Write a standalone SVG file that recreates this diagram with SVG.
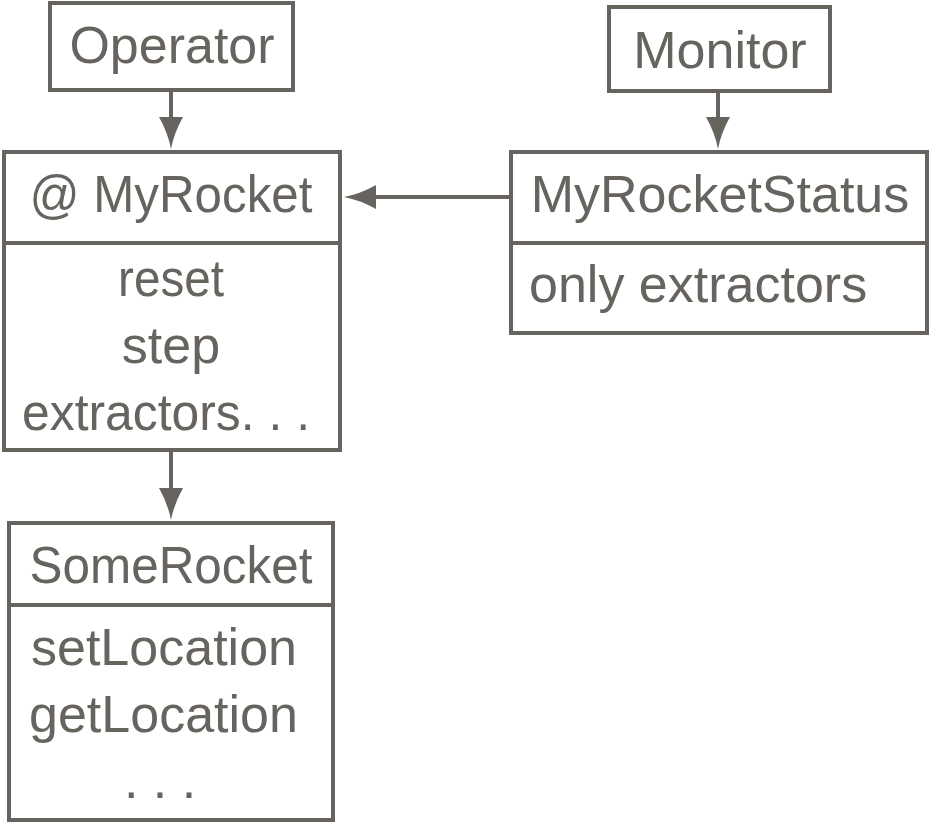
<svg xmlns="http://www.w3.org/2000/svg" width="931" height="823" viewBox="0 0 931 823">
<style>
.box{fill:#fff;stroke:#67645f;stroke-width:4}
.div{stroke:#67645f;stroke-width:4}
.t{font-family:"Liberation Sans",Arial,sans-serif;font-size:52px;fill:#67645f}
.c{text-anchor:middle}
.edge{stroke:#67645f;stroke-width:4;fill:none;marker-end:url(#ah)}
</style>
<defs>
<marker id="ah" viewBox="0 0 32 24" refX="20" refY="12" markerWidth="32" markerHeight="24" orient="auto" markerUnits="userSpaceOnUse">
<path d="M0,0 Q16,9 32,12 Q16,15 0,24 Z" fill="#67645f"/>
</marker>
</defs>
<rect width="931" height="823" fill="#fff"/>
<g id="operator">
<rect class="box" x="50" y="3" width="243" height="87"/>
<text class="t c" x="172" y="63">Operator</text>
</g>
<g id="monitor">
<rect class="box" x="609" y="7" width="221" height="84"/>
<text class="t c" x="720" y="68">Monitor</text>
</g>
<g id="myrocket">
<rect class="box" x="4" y="152" width="336" height="298"/>
<line class="div" x1="4" y1="243" x2="340" y2="243"/>
<text class="t c" x="171" y="212" textLength="283" lengthAdjust="spacingAndGlyphs">@ MyRocket</text>
<text class="t c" x="171" y="296" textLength="106" lengthAdjust="spacingAndGlyphs">reset</text>
<text class="t c" x="171" y="363">step</text>
<text class="t c" x="166" y="430" textLength="288" lengthAdjust="spacingAndGlyphs">extractors. . .</text>
</g>
<g id="myrocketstatus">
<rect class="box" x="511" y="152" width="416" height="181"/>
<line class="div" x1="511" y1="243" x2="927" y2="243"/>
<text class="t c" x="720" y="212">MyRocketStatus</text>
<text class="t" x="529" y="302">only extractors</text>
</g>
<g id="somerocket">
<rect class="box" x="9" y="523" width="324" height="297"/>
<line class="div" x1="9" y1="605" x2="333" y2="605"/>
<text class="t c" x="171" y="583" textLength="283" lengthAdjust="spacingAndGlyphs">SomeRocket</text>
<text class="t" x="31" y="665">setLocation</text>
<text class="t" x="29" y="732">getLocation</text>
<text class="t c" x="160" y="798">. . .</text>
</g>
<g id="connectors">
<line class="edge" x1="171" y1="92" x2="171" y2="137"/>
<line class="edge" x1="171" y1="452" x2="171" y2="508"/>
<line class="edge" x1="718" y1="93" x2="718" y2="137"/>
<line class="edge" x1="509" y1="197" x2="356" y2="197"/>
</g>
</svg>
